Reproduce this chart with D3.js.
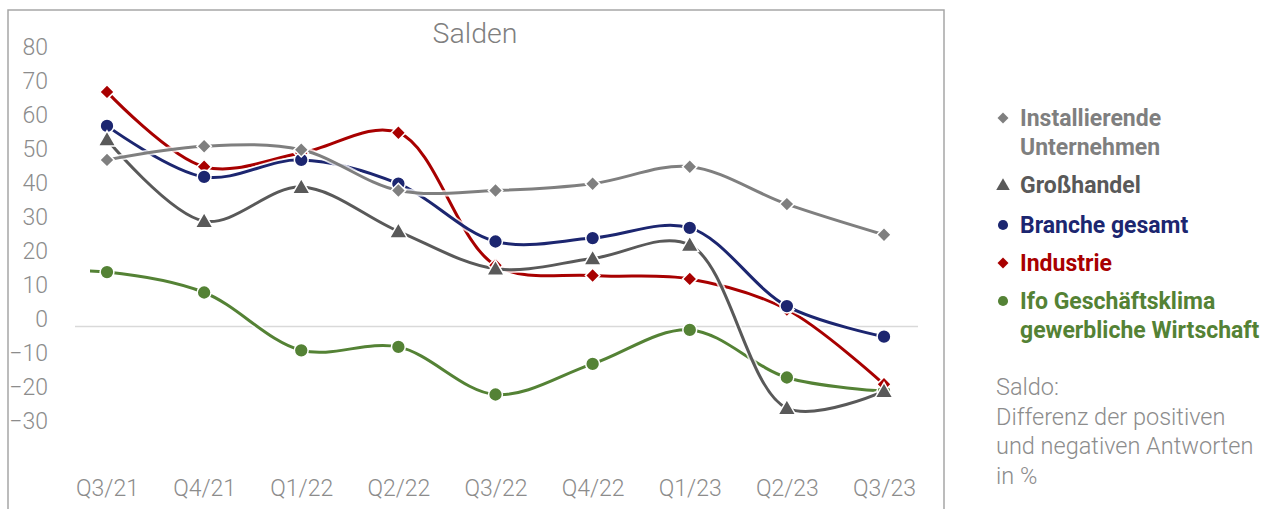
<!DOCTYPE html>
<html>
<head>
<meta charset="utf-8">
<script src="https://cdn.jsdelivr.net/npm/d3@7"></script>
<style>
  body { margin: 0; background: #fff; }
  svg { font-family: Roboto, "Noto Sans", sans-serif; }
</style>
</head>
<body>
<div id="chart"></div>
<script>
// data
var quarters = ["Q3/21", "Q4/21", "Q1/22", "Q2/22", "Q3/22", "Q4/22", "Q1/23", "Q2/23", "Q3/23"];
var yTicks = [80, 70, 60, 50, 40, 30, 20, 10, 0, -10, -20, -30];

var installierende = [49, 53, 52, 40, 40, 42, 47, 36, 27];
var grosshandel    = [55, 31, 41, 28, 17, 20, 24, -24, -19];
var brancheGesamt  = [59, 44, 49, 42, 25, 26, 29, 6, -3];
var industrie      = [69, 47, 51, 57, 18, 15, 14, 5, -17];
var ifoKlima       = [16, 10, -7, -6, -20, -11, -1, -15, -19];
var ifoPrevious    = 16;   // Q2/21, only the stub at the left edge shows

var noteLines = ["Saldo:", "Differenz der positiven", "und negativen Antworten", "in %"];

var series = [
  {name: ["Ifo Geschäftsklima", "gewerbliche Wirtschaft"], values: ifoKlima, color: "#548235", shape: "circle", legendY: 301},
  {name: ["Industrie"], values: industrie, color: "#a80000", shape: "diamond", legendY: 263},
  {name: ["Branche gesamt"], values: brancheGesamt, color: "#1c2670", shape: "circle", legendY: 225},
  {name: ["Großhandel"], values: grosshandel, color: "#595959", shape: "triangle", legendY: 185},
  {name: ["Installierende", "Unternehmen"], values: installierende, color: "#7f7f7f", shape: "diamond", legendY: 118}
];

var W = 1283, H = 509;
var svg = d3.select("#chart").append("svg")
  .attr("width", W)
  .attr("height", H);

// frame
svg.append("rect")
  .attr("x", 8).attr("y", 10)
  .attr("width", 936).attr("height", 520)
  .attr("fill", "none")
  .attr("stroke", "#a6a6a6")
  .attr("stroke-width", 1.5);

var x = d3.scalePoint().domain(quarters).range([107, 884]);
var y = d3.scaleLinear().domain([-30, 80]).range([428.5, 54.5]);
var step = x.step();

// title
svg.append("text")
  .attr("x", 475).attr("y", 43)
  .attr("text-anchor", "middle")
  .style("font-size", "28.5px")
  .style("font-weight", 300)
  .attr("fill", "#7f7f7f")
  .text("Salden");

// zero line
svg.append("line")
  .attr("x1", 75).attr("x2", 918)
  .attr("y1", y(0)).attr("y2", y(0))
  .attr("stroke", "#d9d9d9")
  .attr("stroke-width", 1.5);

// y axis
var yAxis = svg.append("g")
  .attr("transform", "translate(50,0)")
  .call(d3.axisLeft(y).tickValues(yTicks).tickSize(0).tickPadding(2));
yAxis.select(".domain").remove();
yAxis.selectAll("text")
  .attr("dy", "0")
  .style("font-family", "Roboto, sans-serif")
  .style("font-size", "23px")
  .style("font-weight", 300)
  .attr("fill", "#8c8c8c");

// x axis
var xAxis = svg.append("g")
  .attr("transform", "translate(0,470)")
  .call(d3.axisBottom(x).tickSize(0).tickPadding(10));
xAxis.select(".domain").remove();
xAxis.selectAll("text")
  .style("font-family", "Roboto, sans-serif")
  .style("font-size", "23px")
  .style("font-weight", 300)
  .attr("fill", "#8c8c8c");

svg.append("clipPath").attr("id", "plotClip")
  .append("rect")
  .attr("x", 90).attr("y", 10)
  .attr("width", 850).attr("height", 480);

var line = d3.line()
  .x(function(d) { return d.x; })
  .y(function(d) { return y(d.v); })
  .curve(d3.curveCatmullRom.alpha(0.5));

function points(s) {
  var pts = s.values.map(function(v, i) { return {x: x(quarters[i]), v: v}; });
  if (s.values === ifoKlima) pts.unshift({x: x(quarters[0]) - step, v: ifoPrevious});
  return pts;
}

var lines = svg.append("g").attr("clip-path", "url(#plotClip)");
series.forEach(function(s) {
  var pts = points(s);
  lines.append("path")
    .attr("d", line(pts))
    .attr("fill", "none")
    .attr("stroke", "#fff")
    .attr("stroke-width", 6.5)
    .attr("stroke-opacity", 0.8);
  lines.append("path")
    .attr("d", line(pts))
    .attr("fill", "none")
    .attr("stroke", s.color)
    .attr("stroke-width", 3);
});

// diamond = square turned by 45 degrees
function symbolFor(shape, size) {
  var t = shape === "circle" ? d3.symbolCircle : shape === "triangle" ? d3.symbolTriangle : d3.symbolSquare;
  return d3.symbol().type(t).size(size)();
}
function rot(shape) { return shape === "diamond" ? " rotate(45)" : ""; }

var sizes = {circle: 150, diamond: 105, triangle: 135};

series.forEach(function(s) {
  svg.append("g").selectAll("path")
    .data(s.values)
    .enter()
    .append("path")
      .attr("d", symbolFor(s.shape, sizes[s.shape]))
      .attr("transform", function(d, i) {
        var dy = s.shape === "triangle" ? 1.5 : 0;
        return "translate(" + x(quarters[i]) + "," + (y(d) + dy) + ")" + rot(s.shape);
      })
      .attr("fill", s.color)
      .attr("stroke", "#fff")
      .attr("stroke-width", 1.5);
});

// legend
var legend = svg.append("g");
var small = {circle: 80, diamond: 60, triangle: 80};
series.forEach(function(s) {
  legend.append("path")
    .attr("d", symbolFor(s.shape, small[s.shape]))
    .attr("transform", "translate(1003," + (s.legendY + (s.shape === "triangle" ? 1 : 0)) + ")" + rot(s.shape))
    .attr("fill", s.color);
  s.name.forEach(function(t, j) {
    legend.append("text")
      .attr("x", 1020)
      .attr("y", s.legendY + 8 + j * 29)
      .style("font-size", "23px")
      .style("font-weight", 700)
      .attr("fill", s.color)
      .text(t);
  });
});

// note
svg.append("g").selectAll("text")
  .data(noteLines)
  .enter()
  .append("text")
    .attr("x", 996)
    .attr("y", function(d, i) { return 395 + i * 29.5; })
    .style("font-size", "23.5px")
    .style("font-weight", 300)
    .attr("fill", "#8c8c8c")
    .text(function(d) { return d; });
</script>
</body>
</html>
